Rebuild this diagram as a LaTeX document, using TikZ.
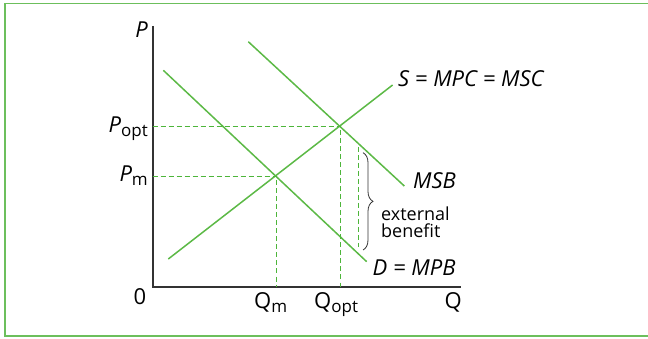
\documentclass[tikz,border=0pt]{standalone}
\usepackage{amsmath}
\usepackage{fontspec}
\setmainfont{Open Sans}
\usepackage{tikz}
\usetikzlibrary{decorations.pathreplacing, positioning}
\definecolor{Curve_Green}{HTML}{5CB946}
\definecolor{Guide_Green}{HTML}{4DB53A}
\definecolor{Frame_Green}{HTML}{6CBF5C}
\definecolor{Axis_Grey}{HTML}{333333}
\newcommand{\lowsub}[1]{\raisebox{-4pt}{\upshape\fontsize{17}{17}\selectfont #1}}

\begin{document}
\begin{tikzpicture}[x=1pt, y=-1pt,
    curve/.style={Curve_Green, line width=1.5pt},
    guide/.style={draw=Guide_Green, line width=1pt, dash pattern=on 5pt off 3pt},
    lbl/.style={inner sep=0pt, font=\fontsize{22}{24}\selectfont\itshape},
    uplbl/.style={inner sep=0pt, font=\fontsize{22}{24}\selectfont},
    note/.style={inner sep=0pt, align=left, font=\fontsize{18}{17}\selectfont}]
    \useasboundingbox (0,0) rectangle (648,339);

    % Frame
    \draw[Frame_Green, line width=1.5pt] (650,3.5) -- (5,3.5) -- (5,336) -- (650,336);

    % Axes
    \coordinate (O) at (152.5,287);
    \coordinate (ytop) at (152.5,26);
    \coordinate (xend) at (461,287);
    \draw[Axis_Grey, line width=2pt] (ytop) -- (O) -- (xend);

    % Curves
    \coordinate (s1) at (168.3,259);
    \coordinate (s2) at (392.6,85);
    \coordinate (d1) at (163.3,70.3);
    \coordinate (d2) at (366.7,261.7);
    \coordinate (b1) at (248.3,41.7);
    \coordinate (b2) at (404.3,186);
    \draw[curve] (s1) -- (s2);
    \draw[curve] (d1) -- (d2);
    \draw[curve] (b1) -- (b2);

    % Equilibria
    \coordinate (Em) at (276.5,176.5);
    \coordinate (Eopt) at (340.5,126.5);
    \draw[guide] (O |- Eopt) -- (Eopt) -- (O -| Eopt);
    \draw[guide] (O |- Em) -- (Em) -- (O -| Em);

    % External benefit
    \coordinate (gtop) at (358.5,147);
    \coordinate (gbot) at (358.5,247);
    \draw[guide] (gtop) -- (gbot);
    \coordinate (btop) at (363,152.7);
    \coordinate (bbot) at (363,250);
    \draw[Axis_Grey, line width=0.8pt, decorate, decoration={brace, amplitude=10pt}]
        (btop) -- (bbot);
    \node[note, anchor=west] (extben) at (381,222) {external\\benefit};

    % Labels
    \node[lbl, anchor=base east] (Plbl) at (148,38) {P};
    \node[lbl, anchor=base east] (Popt) at (148,132.5) {P\lowsub{opt}};
    \node[lbl, anchor=base east] (Pm) at (148,182) {P\lowsub{m}};
    \node[uplbl, anchor=base] (zero) at (140,304) {0};
    \node[uplbl, anchor=base west] (Qm) at (254,308) {Q\lowsub{m}};
    \node[uplbl, anchor=base west] (Qopt) at (314,308) {Q\lowsub{opt}};
    \node[uplbl, anchor=base east] (Qlbl) at (462,308) {Q};
    \node[lbl, anchor=base west] (Slbl) at (398,87) {S = MPC = MSC};
    \node[lbl, anchor=base west] (MSB) at (413,189) {MSB};
    \node[lbl, anchor=base west] (Dlbl) at (372.5,276) {D = MPB};
\end{tikzpicture}
\end{document}
